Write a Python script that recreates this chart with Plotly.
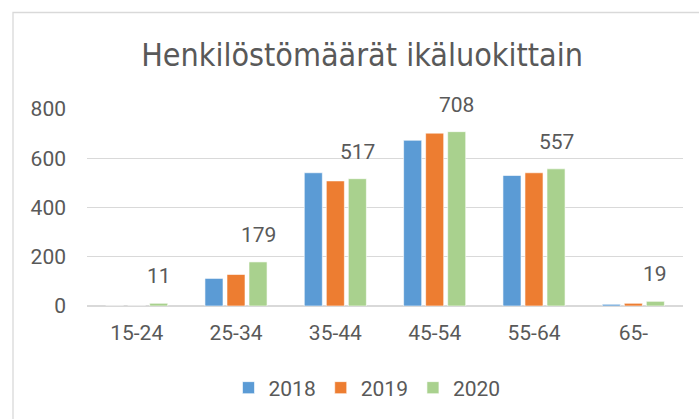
import plotly.graph_objects as go

categories = ["15-24", "25-34", "35-44", "45-54", "55-64", "65-"]
years = ["2018", "2019", "2020"]
v2018 = [0, 112, 541, 673, 530, 7]
v2019 = [0, 128, 508, 702, 541, 11]
v2020 = [11, 179, 517, 708, 557, 19]
colors = ["#5B9BD5", "#ED7D31", "#A9D18E"]
y_ticks = [0, 200, 400, 600, 800]

TXT = "#595959"
GRID = "#D9D9D9"
FONT = "Roboto"

fig = go.Figure()
for name, vals, col in zip(years, [v2018, v2019, v2020], colors):
    fig.add_trace(go.Bar(x=categories, y=vals, name=name,
                         marker=dict(color=col, line=dict(color="white", width=0.6))))

# data labels for 2020 series
for c, v in zip(categories, v2020):
    fig.add_annotation(x=c, y=v, text=str(v), showarrow=False, xref="x", yref="y",
                       xshift=22, yshift=13, yanchor="bottom",
                       font=dict(family=FONT, size=21, color=TXT))

# chart border
fig.add_shape(type="rect", xref="paper", yref="paper",
              x0=(13 - 87) / 596, x1=1.2, y0=-0.7, y1=(307 - 12) / 198,
              line=dict(color=GRID, width=1.3), fillcolor="rgba(0,0,0,0)", layer="below")

fig.update_layout(
    width=699, height=419,
    margin=dict(l=87, r=16, t=109, b=112, pad=0),
    paper_bgcolor="white", plot_bgcolor="white",
    title=dict(text="Henkilöstömäärät ikäluokittain", x=362 / 699, xanchor="center",
               y=1 - 55 / 419, yanchor="middle",
               font=dict(family="DejaVu Sans Condensed", size=32, color=TXT)),
    barmode="group", bargap=0.335, bargroupgap=0.18,
    showlegend=True,
    legend=dict(orientation="h", x=(367 - 87) / 596, xanchor="center",
                y=(307 - 388) / 198, yanchor="middle",
                font=dict(family=FONT, size=21, color=TXT),
                itemwidth=30, traceorder="normal"),
    font=dict(family=FONT, color=TXT),
)
fig.update_xaxes(type="category", showgrid=False, showline=False, ticks="",
                 tickfont=dict(family=FONT, size=21, color=TXT), ticklabelstandoff=12)
fig.update_yaxes(range=[0, 800], tickvals=y_ticks, showgrid=True, gridcolor=GRID, gridwidth=1.3,
                 zeroline=True, zerolinecolor=GRID, zerolinewidth=1.6, showline=False, ticks="",
                 tickfont=dict(family=FONT, size=21, color=TXT), ticklabelstandoff=20)

fig.write_html("out.html")
